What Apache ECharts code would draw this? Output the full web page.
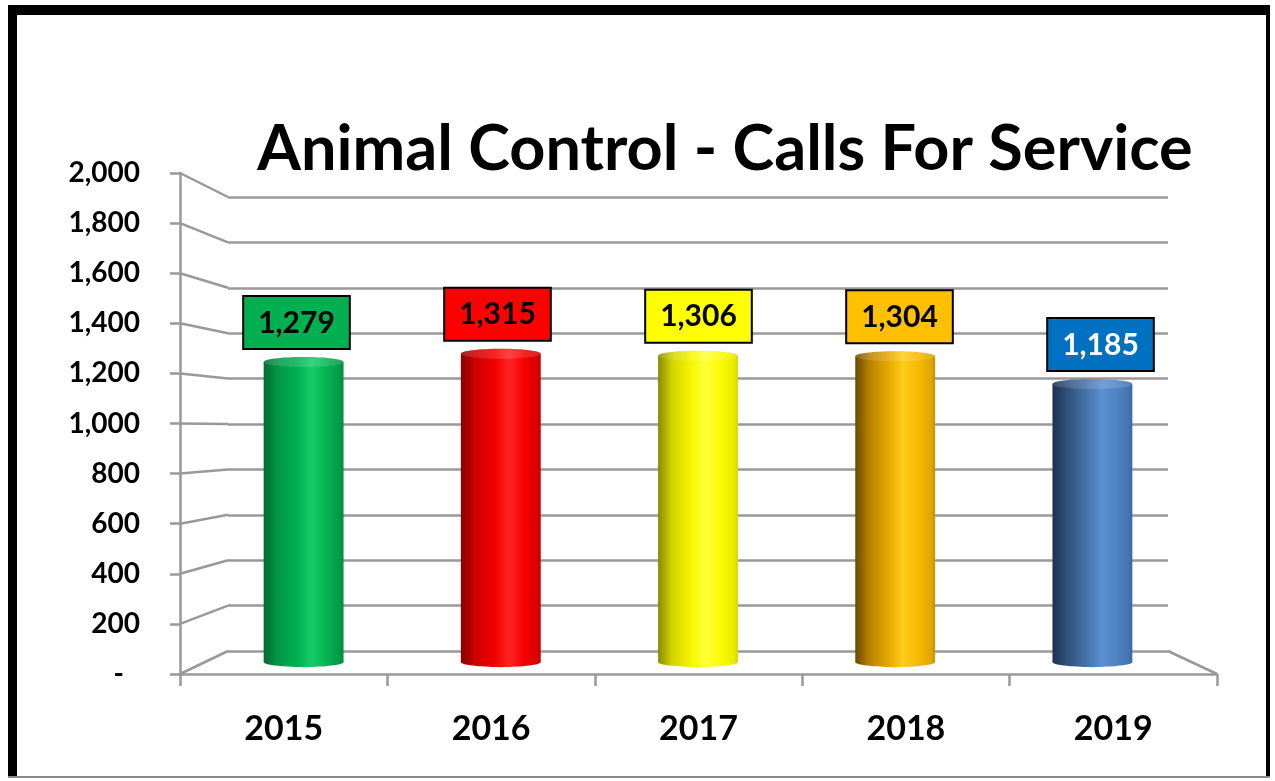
<!DOCTYPE html>
<html>
<head>
<meta charset="utf-8">
<script src="https://cdn.jsdelivr.net/npm/echarts@6/dist/echarts.min.js"></script>
<style>
html,body{margin:0;padding:0;background:#fff;}
#chart{width:1275px;height:781px;}
</style>
</head>
<body>
<div id="chart"></div>
<script>
// ---- data ----
const years = ['2015', '2016', '2017', '2018', '2019'];
const calls = [1279, 1315, 1306, 1304, 1185];
const yTicks = [0, 200, 400, 600, 800, 1000, 1200, 1400, 1600, 1800, 2000];
const titleText = 'Animal Control - Calls For Service';

// ---- styles ----
const labelFill = ['#00B050', '#FF0000', '#FFFF00', '#FFC000', '#0070C0'];
const labelInk = ['#000000', '#000000', '#000000', '#000000', '#FFFFFF'];
const bodyStops = [
  [['#006b30', 0], ['#009845', 0.18], ['#00b052', 0.42], ['#16cc68', 0.6], ['#05b454', 0.78], ['#009a46', 0.95], ['#008a3e', 1]],
  [['#8a0000', 0], ['#cc0000', 0.18], ['#f20000', 0.42], ['#ff2424', 0.6], ['#f40000', 0.8], ['#dc0000', 0.95], ['#c40000', 1]],
  [['#8a8a00', 0], ['#d4d400', 0.18], ['#f6f600', 0.42], ['#ffff3a', 0.6], ['#fafa00', 0.8], ['#eaea00', 0.95], ['#d6d600', 1]],
  [['#6b4800', 0], ['#b98300', 0.18], ['#e6a800', 0.42], ['#ffcc1a', 0.6], ['#f5b800', 0.8], ['#e0a600', 0.95], ['#c89200', 1]],
  [['#1d3150', 0], ['#2f5078', 0.18], ['#4672aa', 0.42], ['#5b8fd0', 0.62], ['#5084c4', 0.8], ['#4575b2', 0.95], ['#3b67a0', 1]]
];
const GRID_GRAY = '#999999';
const GRID_W = 2.5;
const FONT = 'Lato, "Open Sans", sans-serif';
const FRONT = {left: 180, top: 173, width: 1037, height: 501};
const BACK = {left: 228, top: 197, width: 940, height: 454};

const chart = echarts.init(document.getElementById('chart'), null, {renderer: 'canvas'});

function toStops(s) { return s.map(p => ({offset: p[1], color: p[0]})); }

function renderCylinder(params, api) {
  const i = api.value(0);
  const v = api.value(1);
  const top = api.coord([i, v]);
  const bot = api.coord([i, 0]);
  const w = api.size([1, 0])[0] * 0.405;
  const cx = top[0], rx = w / 2, ry = 5;
  const grad = new echarts.graphic.LinearGradient(0, 0, 1, 0, toStops(bodyStops[i]));
  const shadow = new echarts.graphic.RadialGradient(0.5, 0.5, 0.5, [
    {offset: 0, color: 'rgba(0,0,0,0.5)'},
    {offset: 0.6, color: 'rgba(0,0,0,0.18)'},
    {offset: 1, color: 'rgba(0,0,0,0)'}
  ]);
  return {
    type: 'group',
    children: [
      {type: 'ellipse', shape: {cx: cx, cy: bot[1] + 1, rx: rx * 1.6, ry: 6}, style: {fill: shadow}},
      {type: 'ellipse', shape: {cx: cx, cy: bot[1], rx: rx, ry: ry}, style: {fill: grad}},
      {type: 'rect', shape: {x: cx - rx, y: top[1], width: w, height: bot[1] - top[1]}, style: {fill: grad}},
      {type: 'ellipse', shape: {cx: cx, cy: top[1], rx: rx, ry: ry}, style: {fill: grad}},
      {type: 'ellipse', shape: {cx: cx, cy: top[1], rx: rx, ry: ry}, style: {fill: 'rgba(255,255,255,0.14)'}}
    ]
  };
}

const option = {
  animation: false,
  backgroundColor: '#ffffff',
  title: {
    text: titleText,
    left: 720,
    textAlign: 'center',
    top: 113,
    textStyle: {fontFamily: FONT, fontWeight: 'bold', fontSize: 63, color: '#000'}
  },
  grid: [
    {left: FRONT.left, top: FRONT.top, width: FRONT.width, height: FRONT.height},
    {left: BACK.left, top: BACK.top, width: BACK.width, height: BACK.height},
    {left: 205, top: 193, width: 986, height: 469},
    {left: 196, top: 193, width: 1005, height: 469}
  ],
  xAxis: [
    {
      gridIndex: 0, type: 'category', data: years, boundaryGap: true,
      axisLine: {show: true, lineStyle: {color: GRID_GRAY, width: GRID_W}},
      axisTick: {show: true, length: 12, lineStyle: {color: GRID_GRAY, width: GRID_W}},
      axisLabel: {margin: 38, fontFamily: FONT, fontWeight: 'bold', fontSize: 34, color: '#000'},
      splitLine: {show: false}
    },
    {gridIndex: 1, type: 'category', data: years, show: false},
    {gridIndex: 2, type: 'category', data: years, show: false},
    {gridIndex: 3, type: 'category', data: years, show: false}
  ],
  yAxis: [
    {
      gridIndex: 0, type: 'value', min: 0, max: 2000, interval: 200,
      axisLine: {show: true, lineStyle: {color: GRID_GRAY, width: GRID_W}},
      axisTick: {show: true, length: 10, lineStyle: {color: GRID_GRAY, width: GRID_W}},
      splitLine: {show: false},
      axisLabel: {
        margin: 40, fontFamily: FONT, fontWeight: 'bold', fontSize: 28, color: '#000',
        formatter: v => v === 0 ? '{d|-}' : v.toLocaleString('en-US'),
        rich: {d: {fontFamily: FONT, fontWeight: 'bold', fontSize: 28, color: '#000', padding: [0, 16, 0, 0]}}
      }
    },
    {
      gridIndex: 1, type: 'value', min: 0, max: 2000, interval: 200,
      axisLine: {show: false}, axisTick: {show: false}, axisLabel: {show: false},
      splitLine: {show: true, lineStyle: {color: GRID_GRAY, width: GRID_W}}
    },
    {gridIndex: 2, type: 'value', min: 0, max: 2000, show: false, splitLine: {show: false}},
    {gridIndex: 3, type: 'value', min: 0, max: 2000, show: false, splitLine: {show: false}}
  ],
  series: [
    {
      type: 'custom', xAxisIndex: 2, yAxisIndex: 2,
      data: years.map((y, i) => [i, calls[i]]),
      encode: {x: 0, y: 1},
      renderItem: renderCylinder,
      z: 3
    },
    {
      type: 'bar', xAxisIndex: 3, yAxisIndex: 3, barWidth: 2, silent: true,
      itemStyle: {color: 'rgba(0,0,0,0)'},
      data: calls.map((v, i) => ({
        value: v,
        label: {backgroundColor: labelFill[i], color: labelInk[i]}
      })),
      label: {
        show: true, position: 'top', distance: 14,
        formatter: p => p.value.toLocaleString('en-US'),
        fontFamily: FONT, fontWeight: 'bold', fontSize: 30, lineHeight: 36,
        borderColor: '#000', borderWidth: 2, padding: [8, 14, 7, 14]
      },
      z: 5
    }
  ]
};

chart.setOption(option);

// perspective connectors between the front axis and the back wall, derived from both axes
const gfx = [];
yTicks.forEach(v => {
  const fy = chart.convertToPixel({yAxisIndex: 0}, v);
  const by = chart.convertToPixel({yAxisIndex: 1}, v);
  gfx.push({type: 'line', z: 1, shape: {x1: FRONT.left, y1: fy, x2: BACK.left, y2: by},
    style: {stroke: GRID_GRAY, lineWidth: GRID_W}});
});
{
  const fy0 = chart.convertToPixel({yAxisIndex: 0}, 0);
  const by0 = chart.convertToPixel({yAxisIndex: 1}, 0);
  gfx.push({type: 'line', z: 1, shape: {x1: BACK.left + BACK.width, y1: by0, x2: FRONT.left + FRONT.width, y2: fy0},
    style: {stroke: GRID_GRAY, lineWidth: GRID_W}});
}
// frame
gfx.push({type: 'rect', z: 10, shape: {x: 8, y: 5, width: 9, height: 773}, style: {fill: '#000'}});
gfx.push({type: 'rect', z: 10, shape: {x: 8, y: 5, width: 1262, height: 10}, style: {fill: '#000'}});
gfx.push({type: 'rect', z: 10, shape: {x: 1266, y: 5, width: 4, height: 773}, style: {fill: '#000'}});
gfx.push({type: 'rect', z: 10, shape: {x: 8, y: 776, width: 1262, height: 2}, style: {fill: '#8a8a8a'}});
chart.setOption({graphic: gfx});
</script>
</body>
</html>
